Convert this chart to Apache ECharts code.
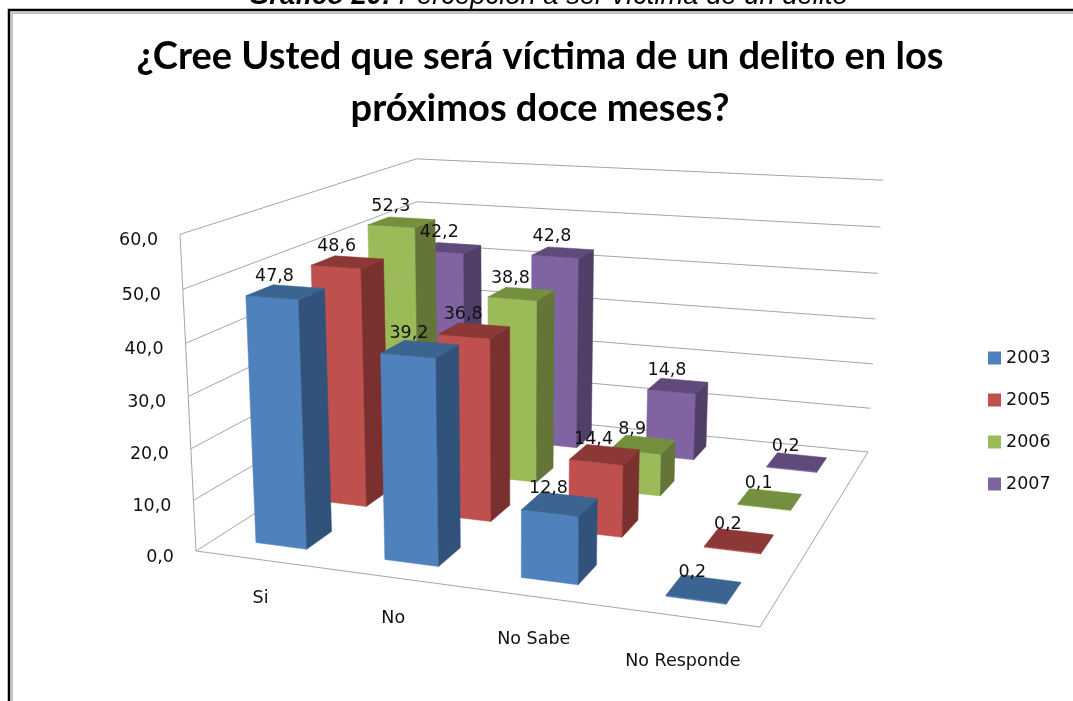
<!DOCTYPE html>
<html><head><meta charset="utf-8">
<style>html,body{margin:0;padding:0;background:#fff}#c{width:1073px;height:701px}</style>
<script src="https://cdn.jsdelivr.net/npm/echarts@6/dist/echarts.min.js"></script>
</head><body><div id="c"></div>
<script>
const categories = ['Si','No','No Sabe','No Responde'];
const years = ['2003','2005','2006','2007'];
const v2003 = [47.8,39.2,12.8,0.2];
const v2005 = [48.6,36.8,14.4,0.2];
const v2006 = [52.3,38.8,8.9,0.1];
const v2007 = [42.2,42.8,14.8,0.2];
const yTicks = [0,10,20,30,40,50,60];
const seriesValues = [v2003,v2005,v2006,v2007];
const faces = [
 {front:'#4F81BD',side:'#31527A',top:'#3B6491'},
 {front:'#C0504D',side:'#7A302E',top:'#8C3836'},
 {front:'#9BBB59',side:'#637537',top:'#74903E'},
 {front:'#8064A2',side:'#523F68',top:'#604A7B'}
];
const FONT='DejaVu Sans';
// camera of the pseudo-3D plot: floor corners and vertical vanishing point
const GRID={left:196,top:234,width:564,height:317};
const FL=[196,551],FR=[760,627],BR=[868,452],BL=[420,408];
const VP=[513,6832],K=-0.048;
const dx1=FR[0]-BR[0],dx2=BL[0]-BR[0],dx3=FL[0]-FR[0]+BR[0]-BL[0];
const dy1=FR[1]-BR[1],dy2=BL[1]-BR[1],dy3=FL[1]-FR[1]+BR[1]-BL[1];
const det=dx1*dy2-dx2*dy1;
const g=(dx3*dy2-dx2*dy3)/det,h=(dx1*dy3-dx3*dy1)/det;
const a=FR[0]-FL[0]+g*FR[0],b=BL[0]-FL[0]+h*BL[0],c0=FL[0];
const d=FR[1]-FL[1]+g*FR[1],e=BL[1]-FL[1]+h*BL[1],f0=FL[1];
function P(u,v,t){
  const w=g*u+h*v+1, k=K*t;
  return [(a*u+b*v+c0+k*VP[0])/(w+k),(d*u+e*v+f0+k*VP[1])/(w+k)];
}
const normU=x=>(x-GRID.left)/GRID.width;
const normT=y=>(GRID.top+GRID.height-y)/GRID.height;
const comma=v=>v.toFixed(1).replace('.',',');
const GAP=0.4, GRAY='#A6A6A6', USHIFT=0.003;
function poly(pts,fill){return {type:'polygon',shape:{points:pts},style:{fill:fill,stroke:fill,lineWidth:0.5},silent:true};}
function line(p,q){return {type:'line',shape:{x1:p[0],y1:p[1],x2:q[0],y2:q[1]},style:{stroke:GRAY,lineWidth:1},silent:true};}
function txt(s,x,y,al){return {type:'text',style:{text:s,x:x,y:y,align:al,verticalAlign:'middle',fill:'#111',font:'17.5px "'+FONT+'"'},silent:true};}
function barItem(s){
  return function(params,api){
    const cat=api.value(0),val=api.value(1);
    const pos=api.coord([cat,val]),band=api.size([1,0])[0]/GRID.width;
    const uc=normU(pos[0])+USHIFT,t=normT(pos[1]);
    const u0=uc-band*GAP/2,u1=uc+band*GAP/2;
    const vc=(s+0.5)/4,v0=vc-0.25*GAP/2,v1=vc+0.25*GAP/2;
    const f=faces[s];
    return {type:'group',children:[
      poly([P(u0,v0,0),P(u1,v0,0),P(u1,v0,t),P(u0,v0,t)],f.front),
      poly([P(u1,v0,0),P(u1,v1,0),P(u1,v1,t),P(u1,v0,t)],f.side),
      poly([P(u0,v0,t),P(u1,v0,t),P(u1,v1,t),P(u0,v1,t)],f.top)
    ]};
  };
}
const barSeries=years.map((y,s)=>({
  name:y,type:'custom',z:10-s,coordinateSystem:'cartesian2d',
  encode:{x:0,y:1},itemStyle:{color:faces[s].front},
  data:seriesValues[s].map((v,i)=>[i,v]),renderItem:barItem(s)
}));
const labelSeries=years.map((y,s)=>({
  type:'custom',z:20,coordinateSystem:'cartesian2d',encode:{x:0,y:1},
  data:seriesValues[s].map((v,i)=>[i,v]),
  renderItem:function(params,api){
    const cat=api.value(0),val=api.value(1);
    const pos=api.coord([cat,val]);
    const p=P(normU(pos[0]),(s+0.5)/4,normT(pos[1]));
    return txt(comma(val),p[0]-9.5,p[1]-15.5,'center');
  }
}));
const wallSeries={type:'custom',z:2,coordinateSystem:'cartesian2d',encode:{y:1},
  data:yTicks.map(v=>[0,v]),
  renderItem:function(params,api){
    const val=api.value(1),t=normT(api.coord([0,val])[1]);
    const ch=[line(P(0,0,t),P(0,1,t)),line(P(0,1,t),P(1,1,t))];
    const p=P(0,0,t);
    ch.push(txt(comma(val),p[0]-22,p[1]+6,'right'));
    return {type:'group',children:ch};
  }};
const frameSeries={type:'custom',z:2,coordinateSystem:'cartesian2d',encode:{y:1},
  data:[[0,60]],
  renderItem:function(params,api){
    const t=normT(api.coord([0,api.value(1)])[1]);
    return {type:'group',children:[line(P(0,0,0),P(0,0,t)),line(P(0,0,0),P(1,0,0)),line(P(1,0,0),P(1,1,0))]};
  }};
const catSeries={type:'custom',z:2,coordinateSystem:'cartesian2d',encode:{x:0,y:1},
  data:categories.map((c,i)=>[i,0]),
  renderItem:function(params,api){
    const i=api.value(0),x=api.coord([i,0])[0],p=P(normU(x),0,0);
    return txt(categories[i],p[0]+1,p[1]+39+(p[1]-558)*0.105,'center');
  }};
const chart=echarts.init(document.getElementById('c'),null,{renderer:'canvas'});
chart.setOption({
  animation:false,backgroundColor:'#fff',
  title:[
   {text:'¿Cree Usted que será víctima de un delito en los\npróximos doce meses?',left:535,top:26,textAlign:'center',
    textStyle:{fontFamily:'Lato',fontWeight:'bold',fontSize:38,lineHeight:52,color:'#000'}}
  ],
  graphic:[
    {type:'text',left:248,top:-17,z:30,style:{text:'{b|Gráfico 20:}{i| Percepción a ser víctima de un delito}',
      rich:{b:{font:'italic bold 27.4px "Liberation Sans"',fill:'#000'},i:{font:'italic 27.4px "Liberation Sans"',fill:'#000'}}}},
    {type:'rect',z:30,shape:{x:9,y:10,width:1100,height:800},style:{fill:'none',stroke:'#000',lineWidth:2.5}},
    {type:'rect',z:30,shape:{x:12,y:13,width:1100,height:800},style:{fill:'none',stroke:'#B0B0B0',lineWidth:1.5}}
  ],
  legend:{data:years,orient:'vertical',left:983,top:344,itemWidth:13,itemHeight:13,itemGap:24,icon:'rect',
    textStyle:{fontFamily:FONT,fontSize:17.5,color:'#111'},selectedMode:false},
  grid:{left:GRID.left,top:GRID.top,width:GRID.width,height:GRID.height},
  xAxis:{type:'category',data:categories,show:false},
  yAxis:{type:'value',min:0,max:60,interval:10,show:false},
  series:[wallSeries,frameSeries,catSeries].concat(barSeries,labelSeries)
});
</script></body></html>
